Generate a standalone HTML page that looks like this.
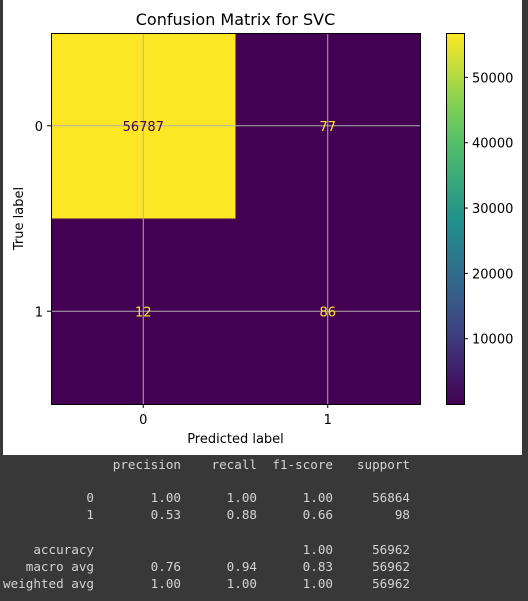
<!DOCTYPE html>
<html><head><meta charset="utf-8"><style>
body{margin:0;width:528px;height:601px;background:#383838;overflow:hidden;font-family:"DejaVu Sans","Liberation Sans",sans-serif}
#fig{position:absolute;left:3px;top:0;width:519px;height:455px;background:#fff}
svg{position:absolute;left:0;top:0}
.r{position:absolute;color:#d4d4d4;font-family:"DejaVu Sans Mono","Liberation Mono",monospace;font-size:12.6px;line-height:16px;white-space:pre;text-align:right}
</style></head><body>
<div id="fig"></div>
<svg id="chart" width="528" height="456"></svg>
<div id="report"></div>
<script>
const classes=["0","1"];
const matrix=[[56787,77],[12,86]];
const cbTicks=[10000,20000,30000,40000,50000];
const vmin=12, vmax=56787;
const reportHeader=["","precision","recall","f1-score","support"];
const reportRows=[["0","1.00","1.00","1.00","56864"],["1","0.53","0.88","0.66","98"],["accuracy","","","1.00","56962"],["macro avg","0.76","0.94","0.83","56962"],["weighted avg","1.00","1.00","1.00","56962"]];
const NS="http://www.w3.org/2000/svg";
const svg=document.getElementById('chart');
function mk(t,a,txt){const e=document.createElementNS(NS,t);for(const k in a)e.setAttribute(k,a[k]);if(txt!==undefined)e.textContent=txt;svg.appendChild(e);return e;}
const AX=51,AY=33,AW=369,AH=371;
const n=classes.length,cw=AW/n,ch=AH/n;
function viridis(t){const s=[[68,1,84],[59,82,139],[33,145,140],[94,201,98],[253,231,37]];t=Math.max(0,Math.min(1,t));const p=t*4,i=Math.min(3,Math.floor(p)),f=p-i;const c=s[i].map((v,k)=>Math.round(v+(s[i+1][k]-v)*f));return `rgb(${c})`;}
const norm=v=>(v-vmin)/(vmax-vmin);
for(let r=0;r<n;r++)for(let c=0;c<n;c++){
 const el=mk('rect',{x:AX+c*cw,y:AY+r*ch,width:cw,height:ch,fill:viridis(norm(matrix[r][c]))});
 
 
}
for(let i=0;i<n;i++){
 let g=mk('line',{x1:AX+(i+.5)*cw,x2:AX+(i+.5)*cw,y1:AY,y2:AY+AH,stroke:'#b0b0b0','stroke-width':1});
 
 
 g=mk('line',{y1:AY+(i+.5)*ch,y2:AY+(i+.5)*ch,x1:AX,x2:AX+AW,stroke:'#b0b0b0','stroke-width':1});
 
 
}
for(let r=0;r<n;r++)for(let c=0;c<n;c++){
 const v=matrix[r][c];
 const t=mk('text',{x:AX+(c+.5)*cw,y:AY+(r+.5)*ch+5,'text-anchor':'middle','font-size':13,fill:norm(v)>0.5?'#440154':'#fde725'},String(v));
 
 
}
let fr=mk('rect',{x:AX+.5,y:AY+.5,width:AW,height:AH,fill:'none',stroke:'#000','stroke-width':1});


for(let i=0;i<n;i++){
 const x=AX+(i+.5)*cw;
 mk('line',{x1:x,x2:x,y1:AY+AH,y2:AY+AH+4,stroke:'#000'});
 let t=mk('text',{x:x,y:AY+AH+20,'text-anchor':'middle','font-size':13},classes[i]);
 
 
 const y=AY+(i+.5)*ch;
 mk('line',{x1:AX-4,x2:AX,y1:y,y2:y,stroke:'#000'});
 t=mk('text',{x:AX-8,y:y+5,'text-anchor':'end','font-size':13},classes[i]);
 
 
}
let t=mk('text',{x:AX+AW/2,y:443,'text-anchor':'middle','font-size':13},'Predicted label');


t=mk('text',{x:23,y:AY+AH/2,'text-anchor':'middle','font-size':13,transform:`rotate(-90 23 ${AY+AH/2})`},'True label');


t=mk('text',{x:AX+AW/2,y:25,'text-anchor':'middle','font-size':16},'Confusion Matrix for SVC');


const CX=446,CW=18;
const defs=mk('defs',{});
const lg=document.createElementNS(NS,'linearGradient');lg.setAttribute('id','vg');lg.setAttribute('x1',0);lg.setAttribute('y1',1);lg.setAttribute('x2',0);lg.setAttribute('y2',0);
for(let i=0;i<=10;i++){const s=document.createElementNS(NS,'stop');s.setAttribute('offset',i/10);s.setAttribute('stop-color',viridis(i/10));lg.appendChild(s);}
defs.appendChild(lg);
const cb=mk('rect',{x:CX+.5,y:AY+.5,width:CW,height:AH,fill:'url(#vg)',stroke:'#000','stroke-width':1});


const cy=v=>AY+AH-norm(v)*AH;
cbTicks.forEach(v=>{
 const y=cy(v);
 mk('line',{x1:CX+CW,x2:CX+CW+4,y1:y,y2:y,stroke:'#000'});
 const tt=mk('text',{x:CX+CW+8,y:y+5,'font-size':13},String(v));
 
 
});
// report
const rep=document.getElementById('report');
const colRight=[94,181,257,333,410];
const rowY=[465,498,515,550,567,584];
[reportHeader].concat(reportRows).forEach((row,ri)=>{
 row.forEach((txt,ci)=>{
  if(!txt)return;
  const s=document.createElement('span');
  s.className='r';
  
  
  s.textContent=txt;
  s.style.right=(528-colRight[ci])+'px';
  s.style.top=(rowY[ri]-8)+'px';
  rep.appendChild(s);
 });
});
</script>
</body></html>
